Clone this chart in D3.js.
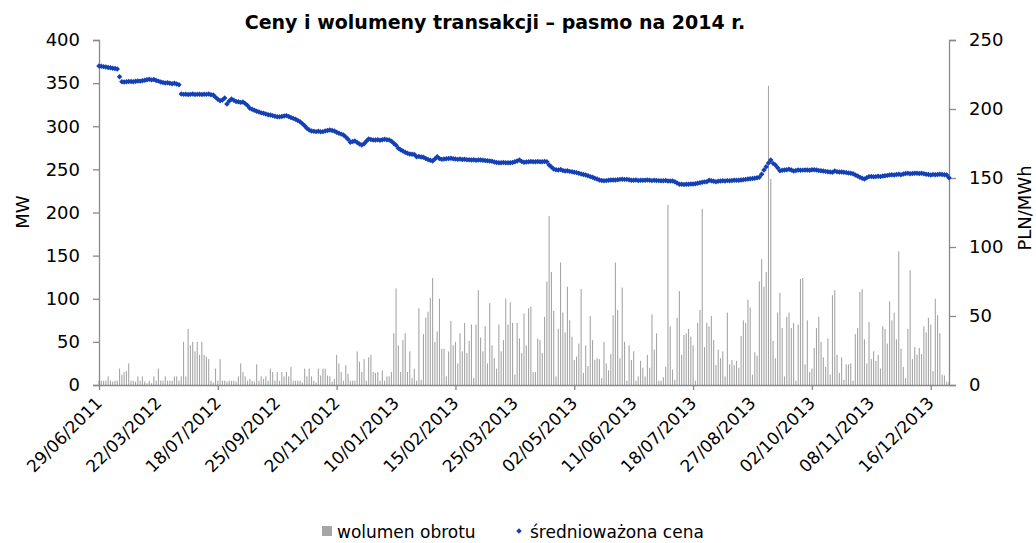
<!DOCTYPE html>
<html>
<head>
<meta charset="utf-8">
<script src="https://cdn.jsdelivr.net/npm/d3@7"></script>
<style>
	body { margin: 0; background: #fff; }
	text { font-family: "DejaVu Sans", Verdana, sans-serif; fill: #000; }
	.axis path, .axis line { stroke: #898989; stroke-width: 1.3px; }
</style>
</head>
<body>
<svg id="chart" width="1036" height="543"></svg>
<script>
// x axis labels, one every 26 sessions
var tickLabels = ["29/06/2011", "22/03/2012", "18/07/2012", "25/09/2012", "20/11/2012",
	"10/01/2013", "15/02/2013", "25/03/2013", "02/05/2013", "11/06/2013",
	"18/07/2013", "27/08/2013", "02/10/2013", "08/11/2013", "16/12/2013"];
var labelStep = 26;

var volTicks = [0, 50, 100, 150, 200, 250, 300, 350, 400];
var priceTicks = [0, 50, 100, 150, 200, 250];

// wolumen obrotu [MW], one per session
var volumes = [
	5,5,5,5,10,5,4,5,5,19, 12,15,16,25,5,5,4,10,5,10,
	4,2,5,2,10,5,19,5,5,10, 5,5,5,10,10,5,10,50,10,65,
	46,50,39,50,35,50,35,33,30,5, 3,19,5,30,5,5,4,5,5,5,
	4,10,25,15,10,
	5,7,5,4,24,5,10,7,10,5, 19,15,5,15,5,15,10,15,10,21,
	5,5,5,5,3,19,10,19,10,5, 3,19,11,19,19,11,10,4,7,35,
	25,15,5,23,13,5,5,5,39,27, 15,30,5,32,35,15,14,15,5,17,5,
	10,10,15,60,112,46,15,52,60,15, 39,8,19,5,89,6,59,78,85,101,
	124,50,62,100,42,42,10,39,74,46, 50,25,60,39,72,37,51,70,8,70,
	110,55,39,68,25,95,46,31,19,70, 39,52,100,70,96,72,12,72,54,37,
	83,46,89,91,15,
	15,54,52,37,79,120,196,131,86,10, 65,142,84,61,114,75,56,29,33,48,
	111,14,46,22,80,52,29,31,30,8, 50,25,17,36,81,142,87,31,113,50,
	5,46,29,39,5,10,28,20,10,35, 20,82,41,60,5,5,9,21,209,68,
	18,6,78,109,
	35,58,60,65,56,46,5,72,87,204, 44,72,68,80,52,23,41,31,39,10,
	84,24,29,23,28,20,57,75,72,99, 90,12,38,34,120,146,114,131,347,239,
	51,31,84,107,66,10,79,84,66,72, 5,70,123,124,24,75,15,19,43,66,79,50,32,
	21,54,12,104,110,35,14,32,6,24, 24,25,5,59,66,108,111,53,25,73,
	30,39,28,35,19,68,65,48,97,75, 84,53,155,42,21,8,65,133,30,44,
	35,43,36,68,61,78,70,16,100,81, 60,12,11,4,3
];

// średnioważona cena [PLN/MWh], one per session
var prices = [
	231.2,231.0,230.7,230.4,230.1,229.9,229.6,229.3,229.0,
	223.4,
	219.8,219.6,219.7,219.9,220.0,219.8,220.1,220.3,220.2,220.5,
	220.8,221.2,221.5,221.1,221.3,220.7,220.2,
	219.6,219.2,218.9,219.0,218.6,218.3,218.7,218.1,217.5,
	210.9,210.6,210.7,210.5,210.6,210.8,210.5,210.6,210.7,210.5,210.7,210.6,210.8,210.4,210.2,
	208.6,207.1,206.0,206.6,208.0,
	203.6,
	205.8,207.2,206.4,205.5,
	205.3,204.8,205.0,203.9,202.6,
	200.5,199.8,199.1,198.4,197.8,197.2,
	196.9,196.3,195.9,195.7,195.2,194.8,194.4,
	194.3,194.6,194.9,195.2,194.5,193.8,
	193.2,192.5,191.6,190.8,189.4,187.8,186.1,184.8,
	184.1,183.9,183.6,183.8,183.5,183.6,184.0,184.4,
	184.8,184.5,184.0,183.1,182.5,181.8,
	181.2,179.8,178.1,175.9,176.5,176.8,
	175.7,174.6,173.9,174.8,176.6,178.3,
	177.9,177.6,177.5,177.8,177.4,177.7,178.0,177.8,177.5,
	176.6,175.1,173.8,171.5,170.4,169.5,168.6,
	168.0,167.4,167.2,167.1,165.4,165.6,165.2,
	165.0,164.1,163.4,162.8,162.3,163.8,165.4,
	164.2,163.5,163.8,164.0,164.2,164.3,164.0,
	163.7,163.5,163.8,163.4,163.6,163.2,163.3,163.0,
	163.2,162.9,163.1,163.0,162.8,162.6,162.5,162.3,
	162.1,161.6,161.3,161.1,161.0,161.2,161.0,161.1,161.1,
	161.3,161.8,162.4,163.0,162.0,161.4,
	161.6,161.8,161.9,161.7,161.8,161.9,161.7,161.8,161.9,161.8,
	159.4,157.9,156.5,156.0,155.8,156.1,155.4,155.1,
	155.3,154.8,154.6,154.2,153.9,153.4,152.9,152.5,
	152.2,151.7,151.0,150.6,149.8,149.2,148.6,
	148.2,148.0,148.1,148.4,148.5,148.6,148.6,148.8,149.0,149.1,149.0,
	149.0,148.7,148.4,148.3,148.5,148.2,148.4,148.3,148.3,148.5,
	148.3,148.1,148.4,148.2,148.1,148.0,148.0,148.2,147.9,147.8,
	147.8,147.3,146.3,145.5,145.4,145.3,
	145.5,145.4,145.6,145.7,145.9,146.2,146.6,
	146.9,147.2,147.3,148.3,148.0,147.6,147.3,
	147.6,147.8,148.0,147.9,148.1,148.0,148.2,148.3,148.4,148.3,148.6,
	148.8,149.0,149.3,149.5,149.7,149.8,150.1,150.5,
	152.7,155.8,158.2,160.8,163.0,160.6,159.4,157.5,
	155.3,155.6,155.8,156.0,156.3,155.8,155.1,155.4,155.8,
	155.6,155.7,155.8,155.8,155.6,155.9,156.0,155.8,155.5,155.3,155.1,
	154.8,154.6,154.4,154.1,155.1,154.6,154.3,154.4,154.1,153.9,153.6,153.4,
	153.0,152.2,151.5,150.6,149.8,149.3,150.2,151.0,
	151.1,150.9,151.0,151.2,151.0,151.4,151.7,151.9,152.2,
	152.3,152.1,152.5,152.7,152.4,152.9,153.2,153.4,153.1,
	153.3,153.5,153.4,153.2,153.4,153.0,152.7,152.5,152.2,
	152.5,152.4,152.6,152.7,152.5,152.4,152.2,150.2
];

var svg = d3.select("#chart");
var plot = { left: 99, right: 949, top: 40, bottom: 385 };
var n = prices.length;

var x = d3.scaleLinear().domain([0, n - 1]).range([plot.left, plot.right]);
var yVol = d3.scaleLinear().domain([0, 400]).range([plot.bottom, plot.top]);
var yPrice = d3.scaleLinear().domain([0, 250]).range([plot.bottom, plot.top]);

// bars - wolumen
svg.append("g")
	.attr("class", "bars")
	.selectAll("rect")
	.data(volumes)
	.enter()
	.append("rect")
	.attr("x", function(d, i) { return x(i) - 0.55; })
	.attr("width", 1.1)
	.attr("y", function(d) { return yVol(d); })
	.attr("height", function(d) { return plot.bottom - yVol(d); })
	.style("fill", "#a6a6a6");

// axes
svg.append("g")
	.attr("class", "axis")
	.attr("transform", "translate(" + plot.left + ",0)")
	.call(d3.axisLeft(yVol).tickValues(volTicks).tickSize(6).tickPadding(13))
	.call(function(g) { g.selectAll("text").style("font-size", "18px"); });

svg.append("g")
	.attr("class", "axis")
	.attr("transform", "translate(" + plot.right + ",0)")
	.call(d3.axisRight(yPrice).tickValues(priceTicks).tickSize(7).tickPadding(13))
	.call(function(g) { g.selectAll("text").style("font-size", "18px"); });

var tickIdx = [];
for (var k = 0; k < n; k += labelStep * 2) tickIdx.push(k);

svg.append("g")
	.attr("class", "axis")
	.attr("transform", "translate(0," + plot.bottom + ")")
	.call(d3.axisBottom(x).tickValues(tickIdx).tickSize(5).tickFormat(""))
	.call(function(g) { g.select(".domain").attr("d", "M" + plot.left + ",0.5H" + plot.right); });

svg.append("g")
	.attr("class", "xlabels")
	.selectAll("text")
	.data(tickLabels)
	.enter()
	.append("text")
	.attr("transform", function(d, i) {
		return "translate(" + x(i * labelStep) + "," + (plot.bottom + 15) + ") rotate(-45)";
	})
	.attr("text-anchor", "end")
	.attr("dy", "0.35em")
	.style("font-size", "17px")
	.text(function(d) { return d; });

// dots - cena
svg.append("g")
	.attr("class", "dots")
	.selectAll("path")
	.data(prices)
	.enter()
	.append("path")
	.attr("d", d3.symbol(d3.symbolSquare, 15))
	.attr("transform", function(d, i) {
		return "translate(" + x(i) + "," + yPrice(d) + ") rotate(45)";
	})
	.style("fill", "#1440b4");

// titles
svg.append("text")
	.attr("x", 495)
	.attr("y", 29)
	.attr("text-anchor", "middle")
	.style("font-size", "19px")
	.style("font-weight", "bold")
	.text("Ceny i wolumeny transakcji – pasmo na 2014 r.");

svg.append("text")
	.attr("transform", "translate(29,212) rotate(-90)")
	.attr("text-anchor", "middle")
	.style("font-size", "18px")
	.text("MW");

svg.append("text")
	.attr("transform", "translate(1031,208) rotate(-90)")
	.attr("text-anchor", "middle")
	.style("font-size", "18px")
	.text("PLN/MWh");

// legend
var legend = svg.append("g").attr("class", "legend");
legend.append("rect")
	.attr("x", 322).attr("y", 526)
	.attr("width", 10).attr("height", 10)
	.style("fill", "#a6a6a6");
legend.append("text")
	.attr("x", 337).attr("y", 538)
	.style("font-size", "17px")
	.text("wolumen obrotu");
legend.append("path")
	.attr("d", d3.symbol(d3.symbolSquare, 15))
	.attr("transform", "translate(519,531) rotate(45)")
	.style("fill", "#1440b4");
legend.append("text")
	.attr("x", 530).attr("y", 538)
	.style("font-size", "17px")
	.text("średnioważona cena");
</script>
</body>
</html>
